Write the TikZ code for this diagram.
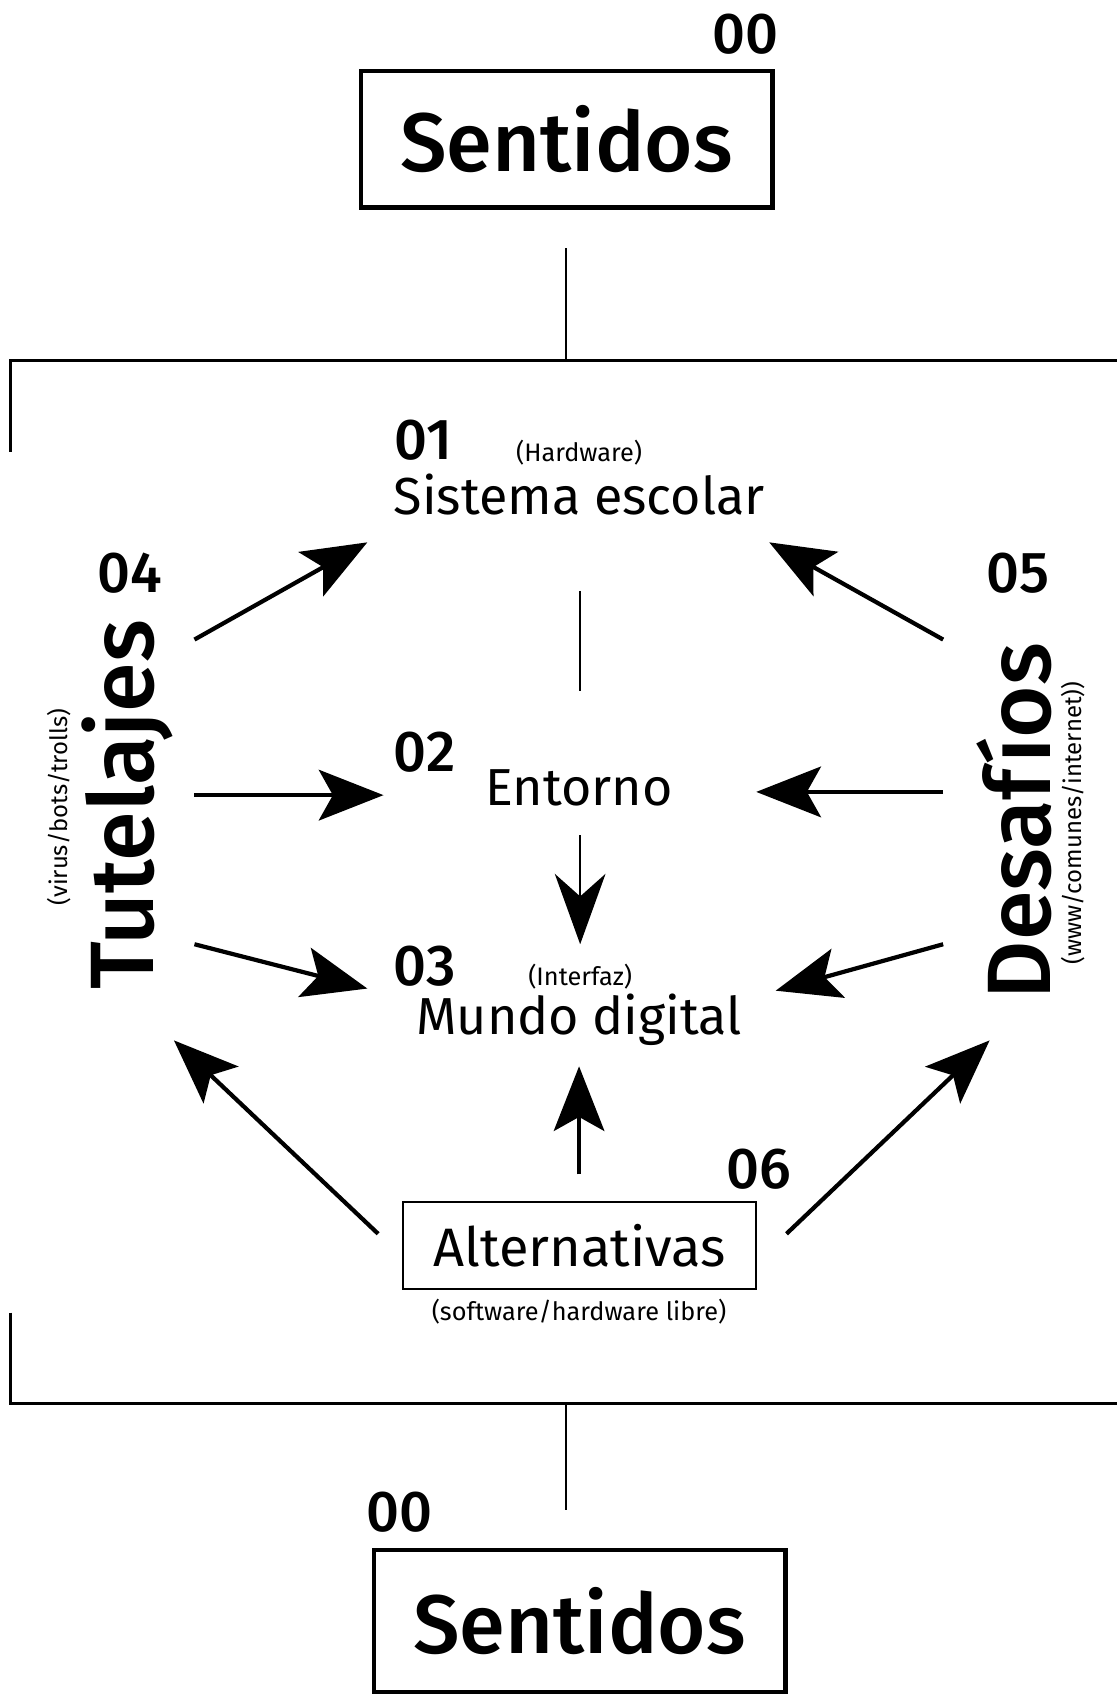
\documentclass[tikz,border=0pt]{standalone}
\usepackage{fontspec}
\setmainfont{Fira Sans}
\newfontfamily\medfont{Fira Sans Medium}
\usetikzlibrary{arrows.meta}

\tikzset{
    bigbox/.style={draw, line width=3pt, inner sep=0pt, minimum width=10.29cm, minimum height=3.4cm, font=\fontsize{59}{60}\medfont},
    altbox/.style={draw, line width=1.5pt, inner sep=0pt, minimum width=8.83cm, minimum height=2.16cm, font=\fontsize{38.5}{39}\selectfont},
    num/.style={anchor=base, inner sep=0pt, font=\fontsize{41}{41}\medfont},
    mid/.style={anchor=base, inner sep=0pt, font=\fontsize{37}{38}\selectfont},
    note/.style={anchor=base, inner sep=0pt, font=\fontsize{18}{18}\selectfont},
    side/.style={anchor=base, inner sep=0pt, rotate=90, font=\fontsize{64}{64}\medfont},
    sidenote/.style={inner sep=0pt, rotate=90, font=\fontsize{17}{17}\selectfont},
    arr/.style={line width=3pt, -{Stealth[length=46pt, width=36pt, inset=10pt]}},
    link/.style={line width=1.9pt},
    frame/.style={line width=2.3pt}
}

\begin{document}
\begin{tikzpicture}[x=0.027cm, y=-0.027cm]
    \useasboundingbox (0,0) rectangle (1033,1568);

    % Top box
    \node[bigbox] (sentA) at (524.5,129) {Sentidos};
    \node[num] (numA) at (690,49.6) {00};

    % Frame
    \coordinate (topA) at (524,230);
    \coordinate (topB) at (524,334);
    \draw[link] (topA) -- (topB);
    \draw[frame] (10,418) -- (10,334) -- (1040,334);
    \draw[frame] (10,1215) -- (10,1299) -- (1040,1299);

    % Center column
    \node[num] (n01) at (392,425) {01};
    \node[note] (hw) at (536,427) {(Hardware)};
    \node[mid] (sis) at (536,476) {Sistema escolar};
    \node[num] (n02) at (393,714) {02};
    \node[mid] (ent) at (536,746) {Entorno};
    \node[num] (n03) at (393,912) {03};
    \node[note] (intf) at (537,912) {(Interfaz)};
    \node[mid] (mun) at (536,958) {Mundo digital};

    \coordinate (sisB) at (537,547);
    \coordinate (entT) at (537,640);
    \draw[link] (sisB) -- (entT);
    \coordinate (entB) at (537,773);
    \coordinate (munT) at (537,874);
    \draw[link, -{Stealth[length=50pt, width=36pt, inset=16pt]}] (entB) -- (munT);

    % Left side
    \node[num] (n04) at (120,548) {04};
    \node[side] (tut) at (142,745) {Tutelajes};
    \node[sidenote] (vbt) at (54.5,747) {(virus/bots/trolls)};

    % Right side
    \node[num] (n05) at (942,548) {05};
    \node[side] (des) at (972,760) {Desafíos};
    \node[sidenote] (wci) at (993.5,762) {(www/comunes/internet))};

    % Arrows left
    \coordinate (l1) at (180,592);
    \coordinate (l2) at (180,736);
    \coordinate (l3) at (180,874);
    \coordinate (h1) at (340,502);
    \coordinate (h2) at (355,736);
    \coordinate (h3) at (340,915);
    \draw[arr] (l1) -- (h1);
    \draw[arr] (l2) -- (h2);
    \draw[arr] (l3) -- (h3);

    % Arrows right
    \coordinate (r1) at (873,592);
    \coordinate (r2) at (873,733);
    \coordinate (r3) at (873,874);
    \coordinate (k1) at (712,502);
    \coordinate (k2) at (700,733);
    \coordinate (k3) at (718,917);
    \draw[arr] (r1) -- (k1);
    \draw[arr] (r2) -- (k2);
    \draw[arr] (r3) -- (k3);

    % Alternativas
    \node[altbox] (alt) at (536.5,1153) {Alternativas};
    \node[num] (n06) at (702,1100) {06};
    \node[note] (libre) at (536,1222) {(software/hardware libre)};
    \coordinate (a1) at (350,1142);
    \coordinate (a2) at (536,1087);
    \coordinate (a3) at (728,1142);
    \coordinate (g1) at (161,963);
    \coordinate (g2) at (536,987);
    \coordinate (g3) at (916,963);
    \draw[arr] (a1) -- (g1);
    \draw[arr, line width=2.3pt] (a2) -- (g2);
    \draw[arr] (a3) -- (g3);

    % Bottom box
    \coordinate (botA) at (524,1299);
    \coordinate (botB) at (524,1398);
    \draw[link] (botA) -- (botB);
    \node[num] (numB) at (370,1418) {00};
    \node[bigbox, minimum height=3.54cm] (sentB) at (536.5,1500.5) {Sentidos};
\end{tikzpicture}
\end{document}
